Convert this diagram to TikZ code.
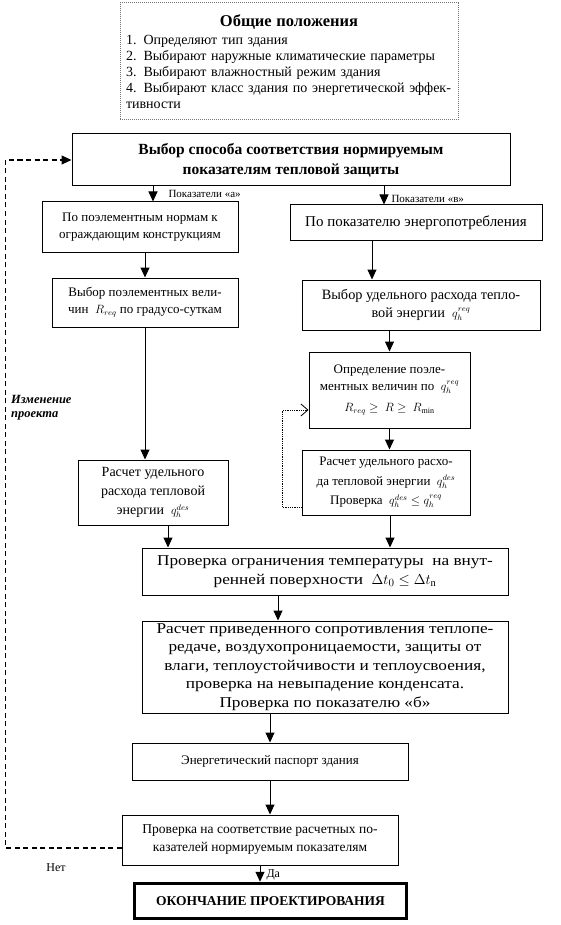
\documentclass[tikz,border=0pt]{standalone}
\usepackage{amsmath,amssymb}
\usepackage{fontspec}
\setmainfont{Liberation Serif}
\newfontfamily\widefont{Liberation Serif}[FakeStretch=1.15]
\usepackage{tikz}
\usetikzlibrary{arrows.meta, positioning}
\newcommand{\sm}[1]{{\fontsize{11.5}{12}\selectfont$#1$}}

\begin{document}
\begin{tikzpicture}[x=1pt, y=-1pt,
  box/.style={draw, line width=1pt, align=center, inner sep=2pt,
              font=\fontsize{13}{17}\selectfont},
  widebox/.style={box, font=\fontsize{15}{18.5}\widefont},
  genbox/.style={draw=black!55, densely dotted, line width=1pt, align=left,
              text width=326pt, inner sep=6pt, font=\fontsize{14}{16}\selectfont},
  arr/.style={-{Triangle[length=10pt, width=9pt]}, line width=1pt},
  fb/.style={dash pattern=on 5pt off 3.5pt, line width=1.1pt,
             -{Triangle[length=10pt, width=9pt]}},
  fbdot/.style={densely dotted, line width=0.8pt,
             -{Straight Barb[length=7pt, width=12pt]}},
  lbl/.style={font=\fontsize{11}{13}\selectfont, inner sep=1pt},
]
\useasboundingbox (0,0) rectangle (560,925);

% --- General provisions ---
\node[genbox, minimum width=338, minimum height=117] (gen) at (289,61.5)
  {\makebox[326pt]{\fontsize{16.5}{19}\selectfont\bfseries Общие положения}\\[2pt]
   1. Определяют тип здания\\
   2. Выбирают наружные климатические параметры\\
   3. Выбирают влажностный режим здания\\
   4. Выбирают класс здания по энергетической эффек-\\
   тивности};

% --- Choice of method ---
\node[box, font=\fontsize{15.5}{20}\selectfont\bfseries,
      minimum width=438, minimum height=52] (choice) at (291,160)
  {Выбор способа соответствия нормируемым\\показателям тепловой защиты};

% --- Left branch ---
\node[box, minimum width=196, minimum height=50] (left1) at (140,227)
  {По поэлементным нормам к\\ограждающим конструкциям};
\node[box, minimum width=186, minimum height=49] (left2) at (145,302.5)
  {Выбор поэлементных вели-\\чин \ \sm{R_{req}} по градусо-суткам};
\node[box, font=\fontsize{14}{19}\selectfont,
      minimum width=150, minimum height=65] (left3) at (153,492.5)
  {Расчет удельного\\расхода тепловой\\энергии \ \sm{q_h^{des}}};

% --- Right branch ---
\node[box, font=\fontsize{15}{17}\selectfont,
      minimum width=252, minimum height=35] (right1) at (416,222.5)
  {По показателю энергопотребления};
\node[box, font=\fontsize{14.3}{18}\selectfont,
      minimum width=238, minimum height=50] (right2) at (421,305)
  {Выбор удельного расхода тепло-\\вой энергии \ \sm{q_h^{req}}};
\node[box, minimum width=161, minimum height=76] (right3) at (389.5,390)
  {Определение поэле-\\ментных величин по \ \sm{q_h^{req}}\\[4pt]
   \sm{R_{req} \geq \ R \geq \ R_{\min}}};
\node[box, font=\fontsize{13}{19.5}\selectfont,
      minimum width=168, minimum height=65] (right4) at (386,482.5)
  {Расчет удельного расхо-\\да тепловой энергии \ \sm{q_h^{des}}\\
   Проверка \ \sm{q_h^{des} \leq q_h^{req}}};

% --- Common checks ---
\node[widebox, minimum width=366, minimum height=47] (temp) at (325,571.5)
  {Проверка ограничения температуры \ на внут-\\
   ренней поверхности \ $\Delta t_0 \leq \Delta t_{\mathrm{n}}$};
\node[widebox, minimum width=366, minimum height=92] (calc) at (325,667)
  {Расчет приведенного сопротивления теплопе-\\
   редаче, воздухопроницаемости, защиты от\\
   влаги, теплоустойчивости и теплоусвоения,\\
   проверка на невыпадение конденсата.\\
   Проверка по показателю «б»};
\node[box, minimum width=276, minimum height=37] (passport) at (270,761.5)
  {Энергетический паспорт здания};
\node[box, font=\fontsize{13.5}{18}\selectfont,
      minimum width=276, minimum height=50] (check) at (260,840)
  {Проверка на соответствие расчетных по-\\казателей нормируемым показателям};
\node[box, line width=3.5pt, font=\fontsize{13.5}{16}\selectfont\bfseries,
      minimum width=272, minimum height=35] (finish) at (270.5,901)
  {ОКОНЧАНИЕ ПРОЕКТИРОВАНИЯ};

% --- Side labels ---
\node[lbl, font=\fontsize{12.5}{14}\selectfont\bfseries\itshape, align=left,
      anchor=north west] (change) at (10,394) {Изменение\\проекта};
\node[lbl, font=\fontsize{12}{14}\selectfont] (no) at (56,868) {Нет};

% --- Arrows ---
\draw[arr] ([xshift=13pt]left1.north |- choice.south) --
  node[lbl, right=14pt] {Показатели «а»} ([xshift=13pt]left1.north);
\draw[arr] ([xshift=-32pt]right1.north |- choice.south) --
  node[lbl, right=6pt, pos=0.7] {Показатели «в»} ([xshift=-32pt]right1.north);
\draw[arr] (left1.south -| left2.north) -- (left2.north);
\draw[arr] (left2.south) -- (left2.south |- left3.north);
\draw[arr] ([xshift=-49pt]right2.north |- right1.south) -- ([xshift=-49pt]right2.north);
\draw[arr] (right2.south -| right3.north) -- (right3.north);
\draw[arr] (right3.south) -- (right3.south |- right4.north);
\draw[arr] ([xshift=4pt]right4.south) -- ([xshift=4pt]right4.south |- temp.north);
\draw[arr] ([xshift=15pt]left3.south) -- ([xshift=15pt]left3.south |- temp.north);
\draw[arr] ([xshift=-47pt]temp.south) -- ([xshift=-47pt]calc.north);
\draw[arr] (calc.south -| passport.north) -- (passport.north);
\draw[arr] (passport.south) -- (passport.south |- check.north);
\draw[arr] (check.south) --
  node[lbl, font=\fontsize{12}{14}\selectfont, right=5pt, pos=0.55] {Да}
  (check.south |- finish.north);

% --- Feedback loops ---
\draw[fbdot] ([yshift=-25pt]right4.west) -|
  ([xshift=-26pt, yshift=-20pt]right3.west) -- ([yshift=-20pt]right3.west);
\draw[fb] ([yshift=-8pt]check.west) -| ([xshift=-66pt]choice.west) -- (choice.west);
\end{tikzpicture}
\end{document}
